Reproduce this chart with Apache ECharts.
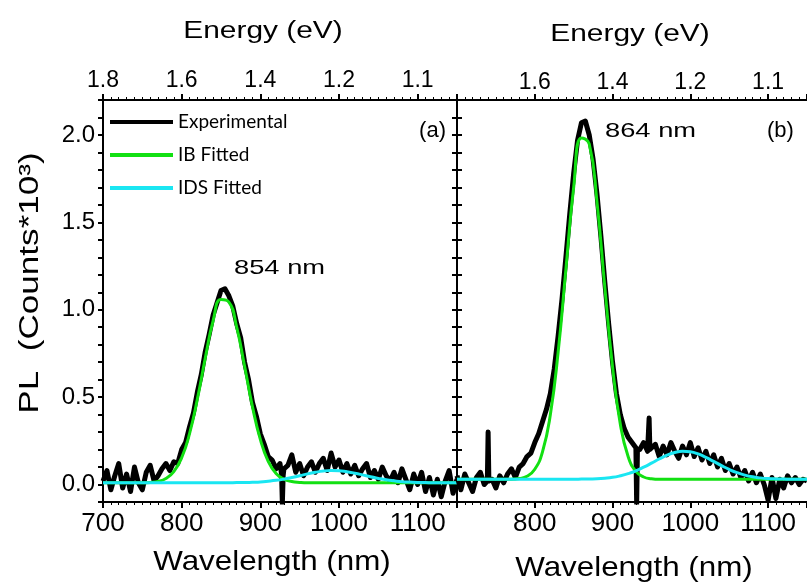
<!DOCTYPE html>
<html>
<head>
<meta charset="utf-8">
<script src="https://cdn.jsdelivr.net/npm/echarts@6/dist/echarts.min.js"></script>
<style>
  html, body { margin: 0; padding: 0; background: #fff; }
  #chart { width: 807px; height: 584px; }
</style>
</head>
<body>
<div id="chart"></div>
<script>
// wavelength grid of the fitted curves (nm)
var fitWavelengths = [700, 710, 720, 730, 740, 750, 760, 770, 780, 790, 800, 810, 820, 830, 840, 850, 860, 870, 880, 890,
  900, 910, 920, 930, 940, 950, 960, 970, 980, 990, 1000, 1010, 1020, 1030, 1040, 1050, 1060, 1070, 1080, 1090,
  1100, 1110, 1120, 1130, 1140, 1150];

// panel (a) fits
var ibFitA = [0.01, 0.01, 0.01, 0.01, 0.01, 0.01, 0.012, 0.018, 0.035, 0.074, 0.153, 0.291, 0.49, 0.724, 0.937, 1.058, 1.044, 0.899, 0.677, 0.446,
  0.258, 0.133, 0.063, 0.03, 0.017, 0.012, 0.01, 0.01, 0.01, 0.01, 0.01, 0.01, 0.01, 0.01, 0.01, 0.01, 0.01, 0.01, 0.01, 0.01,
  0.01, 0.01, 0.01, 0.01, 0.01, 0.01];
var idsFitA = [0.01, 0.01, 0.01, 0.01, 0.01, 0.01, 0.01, 0.01, 0.01, 0.01, 0.01, 0.01, 0.01, 0.01, 0.01, 0.01, 0.01, 0.011, 0.011, 0.013,
  0.015, 0.019, 0.024, 0.031, 0.04, 0.05, 0.061, 0.07, 0.077, 0.08, 0.079, 0.073, 0.065, 0.055, 0.044, 0.035, 0.027, 0.021, 0.016, 0.014,
  0.012, 0.011, 0.01, 0.01, 0.01, 0.01];

// panel (b) fits
var ibFitB = [0.03, 0.03, 0.03, 0.03, 0.03, 0.03, 0.03, 0.03, 0.034, 0.047, 0.087, 0.188, 0.399, 0.756, 1.231, 1.7, 1.983, 1.949, 1.616, 1.131,
  0.673, 0.345, 0.16, 0.075, 0.043, 0.033, 0.03, 0.03, 0.03, 0.03, 0.03, 0.03, 0.03, 0.03, 0.03, 0.03, 0.03, 0.03, 0.03, 0.03,
  0.03, 0.03, 0.03, 0.03, 0.03, 0.03];
var idsFitB = [0.03, 0.03, 0.03, 0.03, 0.03, 0.03, 0.03, 0.03, 0.03, 0.03, 0.03, 0.03, 0.03, 0.03, 0.03, 0.03, 0.031, 0.032, 0.033, 0.036,
  0.041, 0.05, 0.062, 0.078, 0.099, 0.122, 0.146, 0.168, 0.183, 0.19, 0.187, 0.175, 0.155, 0.132, 0.108, 0.086, 0.068, 0.054, 0.044, 0.038,
  0.034, 0.032, 0.031, 0.03, 0.03, 0.03];

// measured spectra [nm, counts*10^3]
var expA = [
  [700, 0.02], [705, 0.08], [710, -0.03], [715, 0.05], [720, 0.12], [725, -0.02], [730, 0.06], [735, -0.04], [740, 0.10], [745, 0.01],
  [750, -0.03], [755, 0.07], [760, 0.11], [765, 0.02], [770, 0.05], [775, 0.09], [780, 0.12], [785, 0.08], [790, 0.13], [795, 0.12],
  [800, 0.20], [805, 0.24], [810, 0.33], [815, 0.41], [820, 0.53], [825, 0.63], [830, 0.76], [835, 0.86], [840, 0.97], [845, 1.04],
  [850, 1.11], [855, 1.12], [860, 1.08], [865, 1.02], [870, 0.92], [875, 0.84], [880, 0.70], [885, 0.60], [890, 0.47], [895, 0.39],
  [900, 0.29], [905, 0.23], [910, 0.16], [915, 0.14], [920, 0.09], [925, 0.12], [927, 0.06], [928, -0.11], [929, 0.05], [930, 0.09],
  [935, 0.11], [940, 0.17], [945, 0.07], [950, 0.12], [955, 0.05], [960, 0.10], [965, 0.13], [970, 0.07], [975, 0.12], [980, 0.15],
  [985, 0.08], [990, 0.18], [995, 0.10], [1000, 0.14], [1005, 0.07], [1010, 0.12], [1015, 0.06], [1020, 0.11], [1025, 0.05], [1030, 0.09],
  [1035, 0.12], [1040, 0.04], [1045, 0.08], [1050, 0.03], [1055, 0.10], [1060, 0.05], [1065, 0.02], [1070, 0.07], [1075, 0.01], [1080, 0.09],
  [1085, 0.03], [1090, -0.03], [1095, 0.06], [1100, 0.00], [1105, 0.07], [1110, -0.04], [1115, 0.04], [1120, -0.06], [1125, 0.03], [1130, -0.07],
  [1135, 0.02], [1140, 0.08], [1145, -0.05], [1150, 0.03]
];
var expB = [
  [700, 0.05], [705, -0.03], [710, 0.06], [715, 0.01], [720, -0.04], [725, 0.04], [730, 0.07], [735, 0.00], [739, 0.02], [740, 0.30],
  [741, 0.02], [745, 0.03], [750, -0.02], [755, 0.05], [760, 0.01], [765, 0.06], [770, 0.09], [775, 0.04], [780, 0.10], [785, 0.12],
  [790, 0.16], [795, 0.18], [800, 0.24], [805, 0.29], [810, 0.36], [815, 0.43], [820, 0.52], [825, 0.66], [830, 0.85], [835, 1.06],
  [840, 1.30], [845, 1.55], [850, 1.78], [855, 1.97], [860, 2.07], [865, 2.08], [870, 2.00], [875, 1.86], [880, 1.66], [885, 1.42],
  [890, 1.16], [895, 0.92], [900, 0.70], [905, 0.52], [910, 0.40], [915, 0.32], [920, 0.27], [925, 0.24], [930, 0.21], [931, -0.11],
  [932, 0.20], [935, 0.20], [940, 0.24], [945, 0.19], [946, 0.20], [947, 0.38], [948, 0.20], [950, 0.20], [955, 0.23], [960, 0.16],
  [965, 0.22], [970, 0.17], [975, 0.24], [980, 0.19], [985, 0.15], [990, 0.22], [995, 0.17], [1000, 0.24], [1005, 0.16], [1010, 0.21],
  [1015, 0.14], [1020, 0.19], [1025, 0.12], [1030, 0.17], [1035, 0.10], [1040, 0.15], [1045, 0.08], [1050, 0.12], [1055, 0.06], [1060, 0.10],
  [1065, 0.04], [1070, 0.08], [1075, 0.02], [1080, 0.07], [1085, 0.01], [1090, 0.06], [1095, 0.00], [1100, -0.09], [1105, 0.04], [1110, -0.08],
  [1115, 0.03], [1120, -0.02], [1125, 0.05], [1130, 0.01], [1135, 0.04], [1140, 0.00], [1145, 0.03], [1150, 0.02]
];

// top axis labels (energy, eV) placed on the wavelength ticks
var energyTickLabels = { 700: '1.8', 800: '1.6', 900: '1.4', 1000: '1.2', 1100: '1.1' };

var FONT = '"Liberation Sans", Arial, sans-serif';
var GREEN = '#12e012';
var CYAN = '#1ae6f2';

function zip(xs, ys) {
  return xs.map(function (x, i) { return [x, ys[i]]; });
}

// bottom / top wavelength axis
function xAxis(gridIndex, position, hideFirst) {
  return {
    type: 'value', gridIndex: gridIndex, position: position,
    min: 700, max: 1150, interval: 100,
    axisLine: { show: true, onZero: false, lineStyle: { color: '#000', width: 2 } },
    axisTick: { show: true, inside: false, length: 6, lineStyle: { color: '#000', width: 2 } },
    minorTick: { show: true, splitNumber: 10, length: 3, lineStyle: { color: '#000', width: 1 } },
    splitLine: { show: false },
    axisLabel: {
      color: '#000', fontFamily: FONT,
      fontSize: position === 'top' ? 23 : 26,
      margin: position === 'top' ? (hideFirst ? 6 : 8) : 9,
      showMaxLabel: false,
      formatter: function (v) {
        if (hideFirst && v === 700) return '';
        if (position === 'top') return energyTickLabels[v] || '';
        return v % 100 === 0 ? String(v) : '';
      }
    }
  };
}

function yAxis(gridIndex, position, showLabels, inside) {
  return {
    type: 'value', gridIndex: gridIndex, position: position,
    min: -0.1, max: 2.2, interval: 0.1,
    axisLine: { show: true, onZero: false, lineStyle: { color: '#000', width: 2 } },
    axisTick: { show: true, inside: inside, length: 5, lineStyle: { color: '#000', width: 2 } },
    splitLine: { show: false },
    axisLabel: {
      show: showLabels, color: '#000', fontFamily: FONT, fontSize: 24, margin: 8,
      formatter: function (v) {
        var h = v * 2;
        return Math.abs(h - Math.round(h)) < 1e-6 && v >= 0 && v <= 2.01 ? v.toFixed(1) : '';
      }
    }
  };
}

function lineSeries(name, data, xi, yi, color, width, smooth) {
  return {
    type: 'line', name: name, data: data,
    xAxisIndex: xi, yAxisIndex: yi,
    showSymbol: false, symbol: 'none', smooth: smooth, animation: false,
    lineStyle: { color: color, width: width, join: 'round' },
    itemStyle: { color: color }
  };
}

var chart = echarts.init(document.getElementById('chart'));
chart.setOption({
  backgroundColor: '#fff',
  animation: false,
  grid: [
    { left: 103, top: 100, width: 354, height: 402 },
    { left: 457, top: 100, width: 354, height: 402 }
  ],
  xAxis: [xAxis(0, 'bottom', false), xAxis(0, 'top', false), xAxis(1, 'bottom', true), xAxis(1, 'top', true)],
  yAxis: [yAxis(0, 'left', true, false), yAxis(0, 'right', false, true), yAxis(1, 'left', false, true)],
  legend: {
    orient: 'vertical', left: 110, top: 112, itemGap: 13, padding: 0,
    icon: 'rect', itemWidth: 63, itemHeight: 4,
    selectedMode: false,
    textStyle: { fontFamily: 'Lato', fontSize: 19, lineHeight: 20, color: '#000' },
    data: ['Experimental', 'IB Fitted', 'IDS Fitted']
  },
  series: [
    lineSeries('Experimental', expA, 0, 0, '#000', 5, false),
    lineSeries('IB Fitted', zip(fitWavelengths, ibFitA), 0, 0, GREEN, 3, true),
    lineSeries('IDS Fitted', zip(fitWavelengths, idsFitA), 0, 0, CYAN, 3, true),
    lineSeries('Experimental', expB, 2, 2, '#000', 5, false),
    lineSeries('IB Fitted', zip(fitWavelengths, ibFitB), 2, 2, GREEN, 3, true),
    lineSeries('IDS Fitted', zip(fitWavelengths, idsFitB), 2, 2, CYAN, 3, true)
  ],
  graphic: [
    { type: 'text', x: 263, y: 32, scaleX: 1.3, style: { text: 'Energy (eV)', font: '23px ' + FONT, fill: '#000', align: 'center', verticalAlign: 'middle' } },
    { type: 'text', x: 630, y: 35, scaleX: 1.3, style: { text: 'Energy (eV)', font: '23px ' + FONT, fill: '#000', align: 'center', verticalAlign: 'middle' } },
    { type: 'text', x: 272, y: 562, scaleX: 1.12, style: { text: 'Wavelength (nm)', font: '28px ' + FONT, fill: '#000', align: 'center', verticalAlign: 'middle' } },
    { type: 'text', x: 634, y: 568, scaleX: 1.12, style: { text: 'Wavelength (nm)', font: '28px ' + FONT, fill: '#000', align: 'center', verticalAlign: 'middle' } },
    { type: 'text', x: 31, y: 283, rotation: Math.PI / 2, scaleX: 1.3, style: { text: 'PL  (Counts*10³)', font: '27px ' + FONT, fill: '#000', align: 'center', verticalAlign: 'middle' } },
    { type: 'text', x: 234, y: 268, scaleX: 1.3, style: { text: '854 nm', font: '21px ' + FONT, fill: '#000', align: 'left', verticalAlign: 'middle' } },
    { type: 'text', x: 605, y: 131, scaleX: 1.3, style: { text: '864 nm', font: '21px ' + FONT, fill: '#000', align: 'left', verticalAlign: 'middle' } },
    { type: 'text', x: 446, y: 131, style: { text: '(a)', font: '22px ' + FONT, fill: '#000', align: 'right', verticalAlign: 'middle' } },
    { type: 'text', x: 767, y: 131, style: { text: '(b)', font: '22px ' + FONT, fill: '#000', align: 'left', verticalAlign: 'middle' } }
  ]
});
</script>
</body>
</html>
